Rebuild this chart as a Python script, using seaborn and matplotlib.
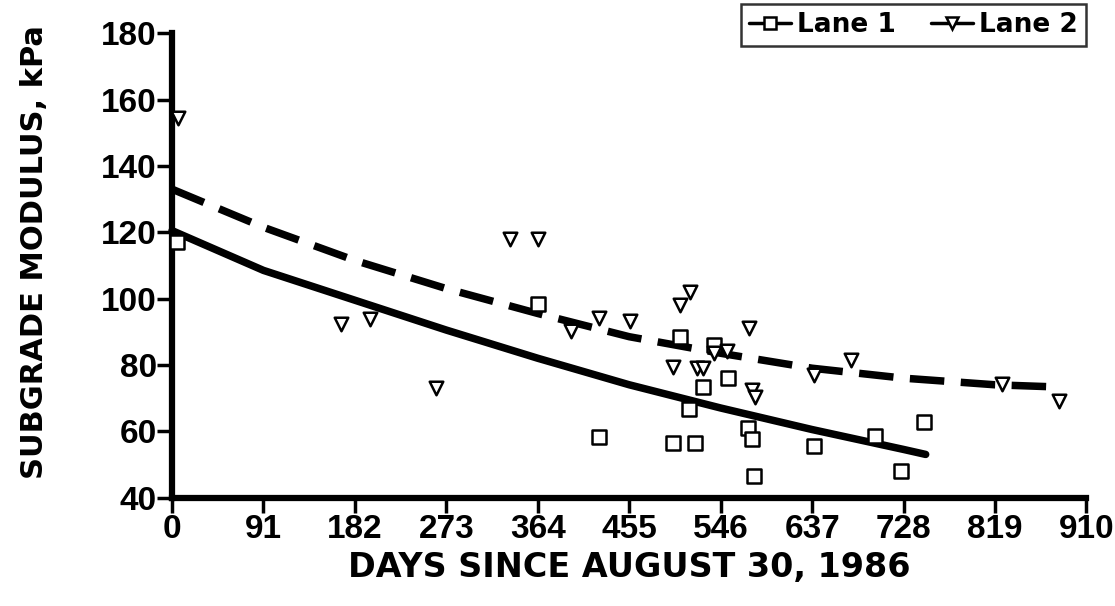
import matplotlib
matplotlib.use("Agg")
import matplotlib.pyplot as plt
import seaborn as sns
from matplotlib.lines import Line2D

# ---- data ----
lane1_days = [5, 364, 425, 506, 539, 553, 528, 514, 499, 520, 573, 577, 579, 639, 700, 725, 748]
lane1_mod = [117, 98.3, 58.3, 88.5, 86.0, 76.0, 73.3, 66.6, 56.5, 56.5, 60.9, 57.7, 46.5, 55.6, 58.6, 48.1, 62.9]

lane2_days = [6, 168, 197, 263, 336, 364, 397, 425, 456, 515, 506, 574, 539, 552,
              499, 522, 528, 577, 580, 676, 639, 826, 883]
lane2_mod = [154.4, 92.4, 93.8, 73.0, 117.9, 117.9, 90.2, 94.1, 93.3, 102.1, 98.1, 91.2, 83.7, 84.3,
             79.3, 79.0, 79.0, 72.4, 70.4, 81.5, 77.0, 74.2, 69.2]

fit1_days = [0, 91, 182, 273, 364, 455, 546, 637, 728, 750]
fit1_mod = [120.5, 108.5, 99.5, 90.5, 82.0, 74.0, 67.0, 60.5, 54.5, 53.0]

fit2_days = [0, 91, 182, 273, 364, 455, 546, 637, 728, 819, 885]
fit2_mod = [133.0, 121.5, 111.5, 103.0, 95.5, 88.5, 83.5, 79.0, 76.0, 74.0, 73.3]

x_ticks = [0, 91, 182, 273, 364, 455, 546, 637, 728, 819, 910]
y_ticks = [40, 60, 80, 100, 120, 140, 160, 180]

sns.set_style("ticks")
plt.rcParams['font.family'] = ['Liberation Sans', 'DejaVu Sans']
plt.rcParams['font.weight'] = 'bold'
plt.rcParams['text.color'] = 'black'
plt.rcParams['axes.labelcolor'] = 'black'

fig = plt.figure(figsize=(11.15, 6.06), dpi=100)
ax = fig.add_axes([0.1543, 0.179, 0.8201, 0.766])

sns.lineplot(x=fit1_days, y=fit1_mod, ax=ax, color='black', lw=5.4,
             solid_capstyle='round', zorder=2, clip_on=False)
sns.lineplot(x=fit2_days, y=fit2_mod, ax=ax, color='black', lw=5.4,
             linestyle=(0, (4.6, 2.2)), dash_capstyle='butt', zorder=2, clip_on=False)

sns.scatterplot(x=lane1_days, y=lane1_mod, ax=ax, marker='s', s=95,
                facecolor='white', edgecolor='black', linewidth=1.8, zorder=3, clip_on=False)
sns.scatterplot(x=lane2_days, y=lane2_mod, ax=ax, marker='v', s=95,
                facecolor='white', edgecolor='black', linewidth=1.8, zorder=3, clip_on=False)

ax.set_xlim(0, 910)
ax.set_ylim(40, 180)
ax.set_xticks(x_ticks)
ax.set_xticklabels([str(v) for v in x_ticks])
ax.set_yticks(y_ticks)
ax.set_yticklabels([str(v) for v in y_ticks])

for s in ['top', 'right']:
    ax.spines[s].set_visible(False)
for s in ['left', 'bottom']:
    ax.spines[s].set_linewidth(4.5)
    ax.spines[s].set_color('black')

ax.tick_params(axis='both', which='major', length=11, width=2.5, color='black',
               labelsize=24, pad=1, labelcolor='black')
ax.tick_params(axis='y', pad=0)

ax.set_xlabel('DAYS SINCE AUGUST 30, 1986', fontsize=24, fontweight='bold', labelpad=4,
              family=['DejaVu Sans'], color='black')
ax.set_ylabel('SUBGRADE MODULUS, kPa', fontsize=22, fontweight='bold',
              family=['DejaVu Sans'], color='black')
ax.yaxis.set_label_coords(-0.135, 0.529)

handles = [
    Line2D([0], [0], color='black', lw=2.5, marker='s', markersize=9,
           markerfacecolor='white', markeredgecolor='black', markeredgewidth=1.8),
    Line2D([0], [0], color='black', lw=2.5, marker='v', markersize=9,
           markerfacecolor='white', markeredgecolor='black', markeredgewidth=1.8),
]
leg = fig.legend(handles, ['Lane 1', 'Lane 2'], loc='upper right', bbox_to_anchor=(0.974, 0.993),
                 borderaxespad=0, ncol=2, frameon=True, fancybox=False, handlelength=1.6,
                 handletextpad=0.25, columnspacing=1.3, borderpad=0.3,
                 prop={'weight': 'bold', 'size': 19, 'family': ['DejaVu Sans']})
leg.get_frame().set_edgecolor('black')
leg.get_frame().set_linewidth(1.8)
for t in leg.get_texts():
    t.set_color('black')

fig.savefig('out.png', dpi=100, facecolor='white')
